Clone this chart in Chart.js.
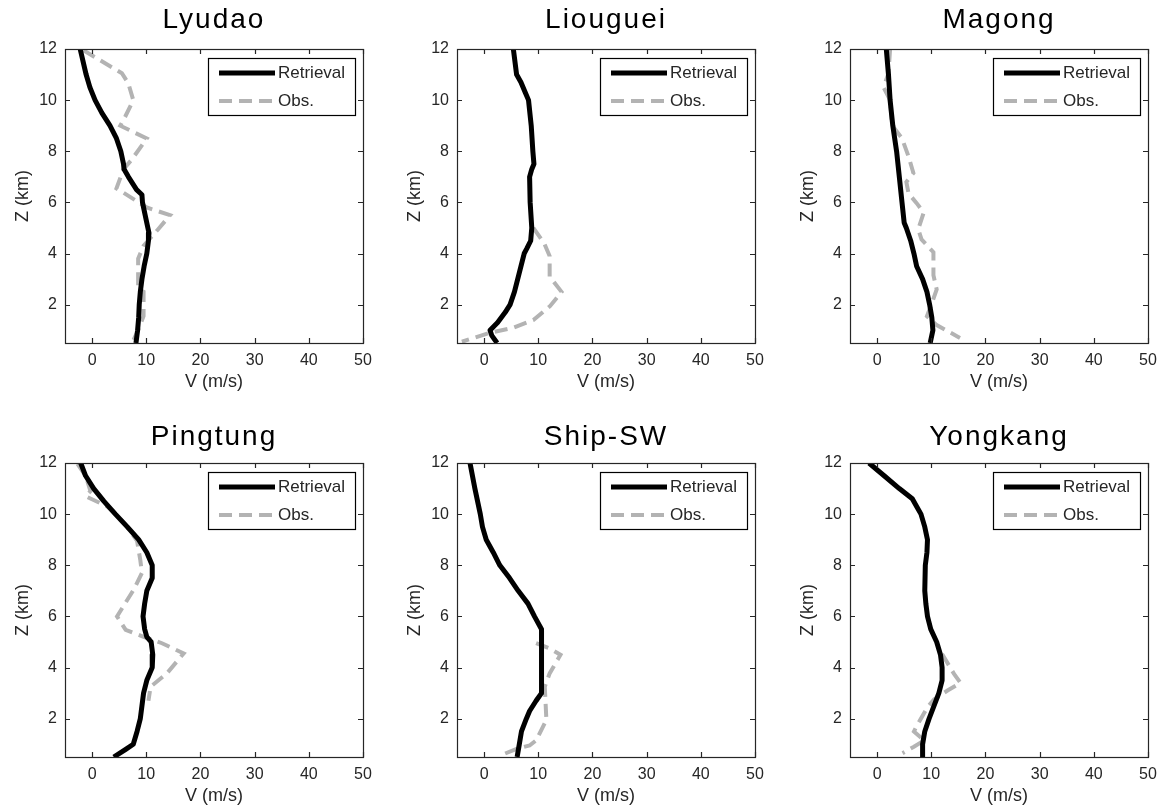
<!DOCTYPE html>
<html>
<head>
<meta charset="utf-8">
<script src="https://cdn.jsdelivr.net/npm/chart.js@4.4.1/dist/chart.umd.min.js"></script>
<style>
  html, body { margin: 0; padding: 0; background: #fff; width: 1166px; height: 811px; overflow: hidden; position: relative; }
  .panel { position: absolute; width: 381px; height: 393px; }
</style>
</head>
<body>
<div class="panel" style="left:0px;top:0px"><canvas id="c0" width="381" height="393"></canvas></div>
<div class="panel" style="left:392px;top:0px"><canvas id="c1" width="381" height="393"></canvas></div>
<div class="panel" style="left:785px;top:0px"><canvas id="c2" width="381" height="393"></canvas></div>
<div class="panel" style="left:0px;top:414px"><canvas id="c3" width="381" height="393"></canvas></div>
<div class="panel" style="left:392px;top:414px"><canvas id="c4" width="381" height="393"></canvas></div>
<div class="panel" style="left:785px;top:414px"><canvas id="c5" width="381" height="393"></canvas></div>
<script>
// ---------- data ----------
const stationNames = ['Lyudao', 'Liouguei', 'Magong', 'Pingtung', 'Ship-SW', 'Yongkang'];
const seriesLabels = ['Retrieval', 'Obs.'];
const xTickValues = [0, 10, 20, 30, 40, 50];
const yTickValues = [2, 4, 6, 8, 10, 12];
const xTitle = 'V (m/s)';
const yTitle = 'Z (km)';

const lyudaoRetZ = [12, 11, 10.5, 10, 9.5, 9, 8.5, 8, 7.5, 7.3, 7, 6.5, 6.3, 6, 5.5, 5, 4.8, 4.5, 4, 3.5, 3, 2.5, 2, 1.5, 1, 0.5];
const lyudaoRetV = [-2.2, -1.1, -0.4, 0.55, 1.8, 3.3, 4.5, 5.3, 5.8, 5.9, 6.7, 8.2, 9.2, 9.3, 9.8, 10.3, 10.5, 10.4, 10.1, 9.6, 9.2, 8.9, 8.7, 8.6, 8.4, 8.1];
const lyudaoObsZ = [11.95, 11.05, 10.65, 10.0, 9.35, 9.0, 8.5, 7.67, 7.3, 6.55, 5.8, 5.5, 4.95, 4.3, 3.8, 2.6, 2.5, 1.55, 1.0, 0.6];
const lyudaoObsV = [-1.6, 5.5, 6.7, 7.6, 6.1, 5.2, 10.1, 7.3, 5.8, 4.5, 10.1, 14.4, 12.2, 9.5, 8.5, 8.5, 9.5, 9.5, 8.5, 7.6];

const liougueiRetZ = [12, 11, 10.7, 10.3, 10, 9, 8, 7.5, 7.3, 7, 6, 5, 4.5, 4.2, 4, 3.5, 3, 2.5, 2, 1.7, 1.3, 1.0, 0.8, 0.5];
const liougueiRetV = [5.4, 6.0, 6.8, 7.6, 8.2, 8.7, 9.0, 9.2, 8.8, 8.4, 8.5, 8.8, 8.6, 7.9, 7.4, 6.8, 6.2, 5.6, 4.8, 3.9, 2.5, 1.1, 1.4, 2.4];
const liougueiObsZ = [5.0, 4.4, 3.9, 3.1, 2.5, 1.95, 1.4, 1.1, 0.9, 0.7, 0.55];
const liougueiObsV = [9.1, 11.1, 12.1, 12.1, 14.3, 12.2, 9.1, 5.4, 1.1, -1.9, -4.1];

const magongRetZ = [12, 11, 10, 9, 8, 7, 6, 5.2, 5, 4.5, 4, 3.5, 3, 2.5, 2, 1.5, 1, 0.5];
const magongRetV = [1.7, 2.1, 2.4, 2.9, 3.6, 4.1, 4.6, 5.0, 5.4, 6.2, 6.8, 7.3, 8.4, 9.2, 9.7, 10.1, 10.3, 9.8];
const magongObsZ = [12, 11.05, 10.5, 10.0, 9.2, 8.95, 8.5, 7.8, 7.15, 6.8, 6.35, 5.97, 5.6, 4.95, 4.55, 4.05, 3.15, 2.6, 2.05, 1.55, 1.2, 0.7];
const magongObsV = [2.4, 2.1, 1.2, 2.4, 2.7, 3.0, 4.6, 5.8, 6.7, 5.4, 5.8, 7.3, 8.6, 7.6, 8.2, 10.4, 10.4, 11.0, 10.1, 9.2, 11.0, 15.3];

const pingtungRetZ = [12, 11.5, 11, 10.5, 10, 9.5, 9, 8.5, 8, 7.5, 7, 6.5, 6, 5.5, 5.2, 5, 4.5, 4, 3.5, 3, 2.5, 2, 1.5, 1.0, 0.8, 0.5];
const pingtungRetV = [-2.1, -1.2, 0.3, 2.2, 4.3, 6.5, 8.6, 10.1, 11.1, 11.1, 10.1, 9.7, 9.4, 9.7, 10.1, 10.9, 11.2, 11.1, 10.1, 9.5, 9.2, 8.9, 8.3, 7.6, 6.2, 4.0];
const pingtungObsZ = [11.97, 11.5, 10.9, 10.7, 10.3, 9.95, 9.5, 8.95, 8.2, 7.7, 7.05, 6.0, 5.47, 5.2, 4.95, 4.55, 3.77, 3.25, 2.7];
const pingtungObsV = [-2.7, -1.2, -0.3, -1.2, 2.8, 4.6, 6.5, 8.3, 8.9, 9.2, 7.7, 4.6, 6.2, 9.5, 12.9, 16.9, 13.8, 10.8, 10.4];

const shipRetZ = [12, 11, 10, 9.5, 9, 8.5, 8, 7.5, 7, 6.5, 6, 5.5, 5, 4, 3, 2.7, 2.3, 2, 1.5, 1, 0.5];
const shipRetV = [-2.6, -1.7, -0.7, -0.3, 0.4, 1.7, 2.9, 4.7, 6.3, 8.1, 9.3, 10.6, 10.6, 10.6, 10.6, 9.6, 8.4, 7.8, 6.9, 6.5, 6.1];
const shipObsZ = [4.95, 4.75, 4.5, 3.77, 3.25, 1.95, 1.15, 0.95, 0.82, 0.55];
const shipObsV = [9.6, 12.1, 14.1, 12.1, 11.2, 11.5, 9.6, 8.4, 6.0, 2.9];

const yongkangRetZ = [12, 11.5, 11, 10.6, 10.3, 10, 9.5, 9, 8.5, 8, 7, 6.5, 6, 5.5, 5, 4.5, 4, 3.5, 3, 2.5, 2, 1.5, 1, 0.5];
const yongkangRetV = [-1.5, 1.3, 4.1, 6.5, 7.3, 8.1, 8.8, 9.3, 9.2, 8.9, 8.8, 9.0, 9.3, 9.9, 11.0, 11.7, 12.0, 12.0, 11.4, 10.5, 9.6, 8.8, 8.4, 8.4];
const yongkangObsZ = [4.53, 3.75, 3.4, 3.1, 2.75, 2.45, 1.75, 1.5, 1.15, 0.9, 0.65];
const yongkangObsV = [12.0, 14.2, 15.4, 13.0, 10.5, 9.3, 7.4, 6.8, 8.7, 6.8, 4.7];

const xMin = -5, xMax = 50, yMin = 0.5, yMax = 12;

// ---------- build ----------
const panels = [
  [lyudaoRetV, lyudaoRetZ, lyudaoObsV, lyudaoObsZ],
  [liougueiRetV, liougueiRetZ, liougueiObsV, liougueiObsZ],
  [magongRetV, magongRetZ, magongObsV, magongObsZ],
  [pingtungRetV, pingtungRetZ, pingtungObsV, pingtungObsZ],
  [shipRetV, shipRetZ, shipObsV, shipObsZ],
  [yongkangRetV, yongkangRetZ, yongkangObsV, yongkangObsZ]
];
const pts = (v, z) => z.map((zz, i) => ({ x: v[i], y: zz }));

const FONT = "'Liberation Sans', Arial, Helvetica, sans-serif";
const AXIS_COLOR = '#262626';
const TEXT_COLOR = '#262626';

// the reference title is set a little wider than the tick text
const titleSpacingPlugin = {
  id: 'titleSpacing',
  afterLayout(chart) {
    const tb = chart.titleBlock;
    if (tb && !tb._spaced) {
      const orig = tb.draw.bind(tb);
      tb.draw = function () {
        const ctx = this.ctx;
        ctx.save();
        if ('letterSpacing' in ctx) ctx.letterSpacing = '2px';
        orig();
        ctx.restore();
      };
      tb._spaced = true;
    }
  }
};

const framePlugin = {
  id: 'frame',
  afterDatasetsDraw(chart) {
    const { ctx, chartArea: a, scales: { x, y } } = chart;
    ctx.save();
    ctx.strokeStyle = AXIS_COLOR;
    ctx.lineWidth = 1.2;
    ctx.strokeRect(Math.round(a.left) + 0.5, Math.round(a.top) + 0.5, Math.round(a.right - a.left), Math.round(a.bottom - a.top));
    const tl = 5;
    ctx.beginPath();
    x.ticks.forEach(t => {
      const px = Math.round(x.getPixelForValue(t.value)) + 0.5;
      ctx.moveTo(px, a.bottom); ctx.lineTo(px, a.bottom - tl);
      ctx.moveTo(px, a.top); ctx.lineTo(px, a.top + tl);
    });
    y.ticks.forEach(t => {
      const py = Math.round(y.getPixelForValue(t.value)) + 0.5;
      ctx.moveTo(a.left, py); ctx.lineTo(a.left + tl, py);
      ctx.moveTo(a.right, py); ctx.lineTo(a.right - tl, py);
    });
    ctx.stroke();
    ctx.restore();
  }
};

const legendPlugin = {
  id: 'boxLegend',
  afterDraw(chart) {
    const { ctx, chartArea: a } = chart;
    const w = 147, h = 57;
    const bx = Math.round(a.right - 8 - w), by = Math.round(a.top + 9);
    ctx.save();
    ctx.fillStyle = '#fff';
    ctx.fillRect(bx, by, w, h);
    ctx.strokeStyle = '#000';
    ctx.lineWidth = 1.2;
    ctx.strokeRect(bx + 0.5, by + 0.5, w, h);
    chart.data.datasets.forEach((ds, i) => {
      const cy = by + 15 + i * 28;
      ctx.beginPath();
      ctx.strokeStyle = ds.borderColor;
      ctx.lineWidth = ds.borderWidth;
      ctx.setLineDash(ds.borderDash || []);
      ctx.moveTo(bx + 11, cy); ctx.lineTo(bx + 67, cy);
      ctx.stroke();
      ctx.setLineDash([]);
      ctx.fillStyle = TEXT_COLOR;
      ctx.font = '17px ' + FONT;
      ctx.textBaseline = 'middle';
      ctx.textAlign = 'left';
      ctx.fillText(ds.label, bx + 70, cy);
    });
    ctx.restore();
  }
};

panels.forEach((p, i) => {
  const [rv, rz, ov, oz] = p;
  const bottomRow = i >= 3;
  new Chart(document.getElementById('c' + i), {
    type: 'scatter',
    data: {
      datasets: [
        { label: seriesLabels[0], data: pts(rv, rz), showLine: true, borderColor: '#000', borderWidth: 5,
          pointRadius: 0, borderJoinStyle: 'round', clip: 0, order: 0 },
        { label: seriesLabels[1], data: pts(ov, oz), showLine: true, borderColor: '#b3b3b3', borderWidth: 4,
          borderDash: [13, 7], pointRadius: 0, clip: 0, order: 1 }
      ]
    },
    plugins: [titleSpacingPlugin, framePlugin, legendPlugin],
    options: {
      responsive: false,
      animation: false,
      events: [],
      layout: { padding: { left: 0, right: 18, top: 0, bottom: 0 } },
      plugins: {
        legend: { display: false },
        tooltip: { enabled: false },
        title: {
          display: true, fullSize: false, text: stationNames[i], color: '#000',
          font: { family: FONT, size: 28, weight: 'normal', lineHeight: 1.2 },
          padding: bottomRow ? { top: 6.2, bottom: 9.2 } : { top: 3.8, bottom: 11.6 }
        }
      },
      scales: {
        x: {
          type: 'linear', min: xMin, max: xMax,
          afterBuildTicks: s => { s.ticks = xTickValues.map(v => ({ value: v })); },
          afterFit: s => { s.height = 50; },
          grid: { display: false, drawTicks: false },
          border: { display: false },
          ticks: { color: TEXT_COLOR, font: { family: FONT, size: 16 }, padding: 8, maxRotation: 0 },
          title: { display: true, text: xTitle, color: TEXT_COLOR, font: { family: FONT, size: 18 }, padding: { top: 0, bottom: 0 } }
        },
        y: {
          type: 'linear', min: yMin, max: yMax,
          afterBuildTicks: s => { s.ticks = yTickValues.map(v => ({ value: v })); },
          afterFit: s => { s.width = 65; },
          grid: { display: false, drawTicks: false },
          border: { display: false },
          ticks: { color: TEXT_COLOR, font: { family: FONT, size: 16 }, padding: 8 },
          title: { display: true, text: yTitle, color: TEXT_COLOR, font: { family: FONT, size: 18 }, padding: { top: 12, bottom: 0 } }
        }
      }
    }
  });
});
</script>
</body>
</html>
